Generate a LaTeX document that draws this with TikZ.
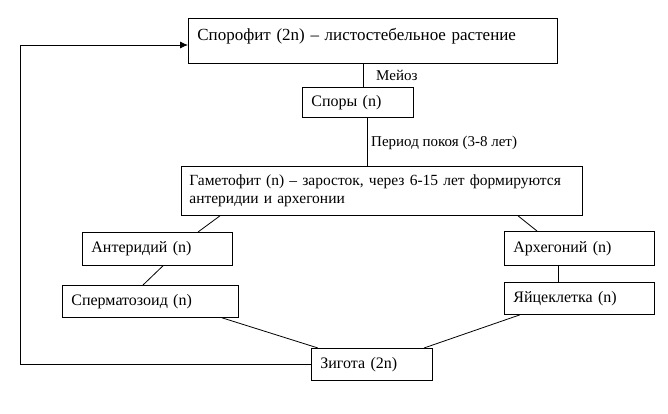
\documentclass[tikz,border=0pt]{standalone}
\usepackage{fontspec}
\setmainfont{Liberation Serif}
\usetikzlibrary{calc,arrows.meta}
\begin{document}
\begin{tikzpicture}[x=1pt,y=-1pt,
  box/.style={draw, line width=0.8pt, anchor=north west, inner xsep=9pt, inner ysep=0pt, align=left,
    font=\fontsize{16}{19}\selectfont},
  lbl/.style={anchor=west, inner sep=0pt, font=\fontsize{15}{17}\selectfont},
  conn/.style={line width=0.8pt}]
\useasboundingbox (0,0) rectangle (668,413);
\node[box, text width=351pt, minimum height=45pt, text depth=12pt, font=\fontsize{17}{20}\selectfont] (spor) at (188,18) {Спорофит (2n) – листостебельное растение};
\node[box, text width=93pt, minimum height=30pt] (spores) at (302,87) {Споры (n)};
\node[box, text width=385pt, inner xsep=8pt, minimum height=49pt, font=\fontsize{15.5}{18}\selectfont] (game) at (181,166) {Гаметофит (n) – заросток, через 6-15 лет формируются\\антеридии и архегонии};
\node[box, text width=132pt, minimum height=33pt] (anth) at (82,232) {Антеридий (n)};
\node[box, text width=132pt, minimum height=34pt] (arch) at (504,231) {Архегоний (n)};
\node[box, text width=158pt, minimum height=32pt] (sperm) at (62,285) {Сперматозоид (n)};
\node[box, text width=132pt, minimum height=32pt] (egg) at (504,282) {Яйцеклетка (n)};
\node[box, text width=103pt, minimum height=32pt] (zyg) at (311,348) {Зигота (2n)};
\node[lbl] (meioz) at (376,75) {Мейоз};
\node[lbl] (rest) at (371,143) {Период покоя (3-8 лет)};
\coordinate (corner) at (20,45);
\draw[conn] ($(spor.south west)+(175,0)$) -- ($(spores.north west)+(61,0)$);
\draw[conn] ($(spores.south west)+(65,0)$) -- ($(game.north west)+(186,0)$);
\draw[conn] ($(game.south west)+(39,0)$) -- ($(anth.north west)+(116,0)$);
\draw[conn] ($(game.south west)+(337,0)$) -- ($(arch.north west)+(33,0)$);
\draw[conn] ($(anth.south west)+(81,0)$) -- ($(sperm.north west)+(81,0)$);
\draw[conn] ($(arch.south west)+(54,0)$) -- ($(egg.north west)+(54,0)$);
\draw[conn] ($(sperm.south west)+(160,0)$) -- ($(zyg.north west)+(7,0)$);
\draw[conn] ($(egg.south west)+(16,0)$) -- ($(zyg.north west)+(113,0)$);
\draw[conn, -{Latex[length=8pt,width=7pt]}] (zyg.west) -- (zyg.west -| corner) -- (corner) -- (spor.west |- corner);
\end{tikzpicture}
\end{document}
